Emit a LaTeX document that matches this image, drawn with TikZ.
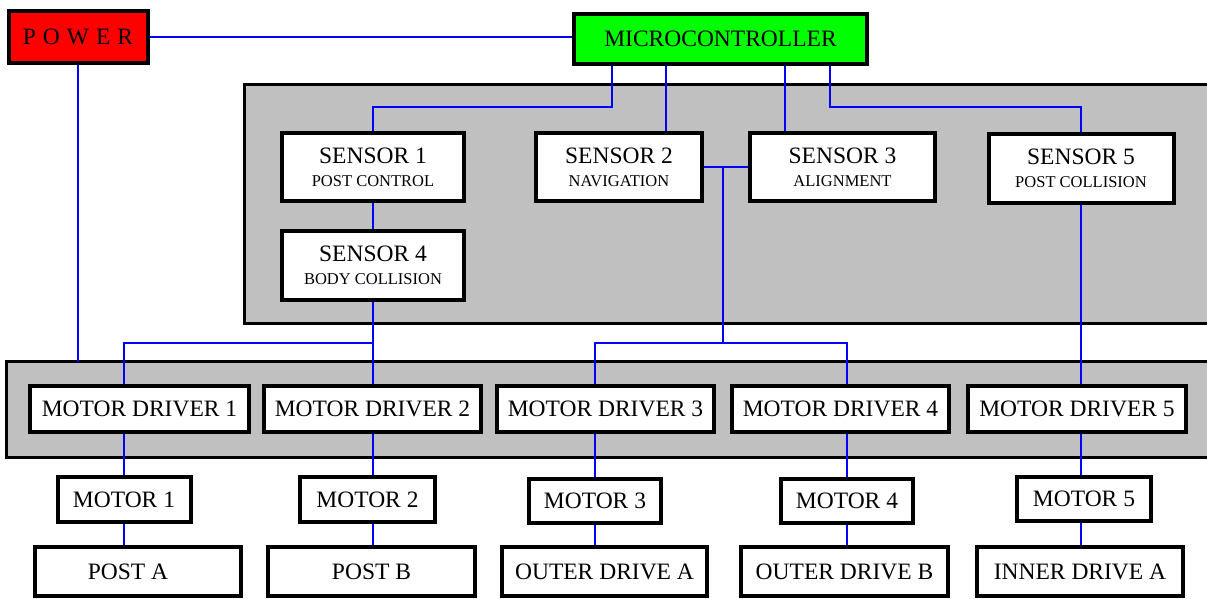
\documentclass[tikz,border=0pt]{standalone}
\usepackage{fontspec}
\setmainfont{Liberation Serif}
\pgfdeclarelayer{panel}
\pgfdeclarelayer{wires}
\pgfsetlayers{panel,wires,main}
\definecolor{panelgray}{HTML}{C0C0C0}
\definecolor{pwred}{HTML}{FF0000}
\definecolor{mcgreen}{HTML}{00FF00}
\newcommand\smalltxt[1]{{\fontsize{16.5}{16.5}\selectfont #1}}
\tikzset{
  box/.style={draw=black, line width=4pt, fill=white, inner sep=0pt, align=center,
    font=\fontsize{23.5}{24}\selectfont},
  wire/.style={draw=blue, line width=1.3pt},
  panelbox/.style={draw=black, line width=3pt, fill=panelgray}
}
\begin{document}
\begin{tikzpicture}[x=1pt,y=-1pt]
\useasboundingbox (0,0) rectangle (1207,598);

% boxes
\node[box, fill=pwred, minimum width=139pt, minimum height=52pt] (PW) at (78,37) {P\hspace{7pt}O\hspace{7pt}W\hspace{7pt}E\hspace{7pt}R};
\node[box, fill=mcgreen, minimum width=293pt, minimum height=50pt] (MC) at (720.5,39) {MICROCONTROLLER};

\node[box, minimum width=182pt, minimum height=68pt] (S1) at (373,167) {SENSOR 1\\[-1pt]\smalltxt{POST CONTROL}};
\node[box, minimum width=182pt, minimum height=69pt] (S4) at (373,265.5) {SENSOR 4\\[-1pt]\smalltxt{BODY COLLISION}};
\node[box, minimum width=166pt, minimum height=68pt] (S2) at (619,167) {SENSOR 2\\[-1pt]\smalltxt{NAVIGATION}};
\node[box, minimum width=185pt, minimum height=68pt] (S3) at (842.5,167) {SENSOR 3\\[-1pt]\smalltxt{ALIGNMENT}};
\node[box, minimum width=185pt, minimum height=69pt] (S5) at (1081,168.5) {SENSOR 5\\[-1pt]\smalltxt{POST COLLISION}};

\node[box, minimum width=219pt, minimum height=46pt] (MD1) at (139.5,409) {MOTOR DRIVER 1};
\node[box, minimum width=217pt, minimum height=46pt] (MD2) at (372.5,409) {MOTOR DRIVER 2};
\node[box, minimum width=217pt, minimum height=46pt] (MD3) at (605.5,409) {MOTOR DRIVER 3};
\node[box, minimum width=217pt, minimum height=46pt] (MD4) at (840.5,409) {MOTOR DRIVER 4};
\node[box, minimum width=218pt, minimum height=46pt] (MD5) at (1077,409) {MOTOR DRIVER 5};

\node[box, minimum width=133pt, minimum height=45pt] (M1) at (124,499.5) {MOTOR 1};
\node[box, minimum width=135pt, minimum height=45pt] (M2) at (367.5,499.5) {MOTOR 2};
\node[box, minimum width=132pt, minimum height=44pt] (M3) at (595,501) {MOTOR 3};
\node[box, minimum width=132pt, minimum height=44pt] (M4) at (847,501) {MOTOR 4};
\node[box, minimum width=134pt, minimum height=44pt] (M5) at (1084,499) {MOTOR 5};

\node[box, minimum width=206pt, minimum height=49pt] (PA) at (138,571.5) {POST A\hspace{20pt}};
\node[box, minimum width=207pt, minimum height=49pt] (PB) at (371.5,571.5) {POST B};
\node[box, minimum width=205pt, minimum height=49pt] (ODA) at (604.5,571.5) {OUTER DRIVE A};
\node[box, minimum width=207pt, minimum height=49pt] (ODB) at (844.5,571.5) {OUTER DRIVE B};
\node[box, minimum width=206pt, minimum height=49pt] (IDA) at (1080,571.5) {INNER DRIVE A};

% panels
\begin{pgfonlayer}{panel}
  \draw[panelbox] (244.5,84.5) rectangle (1225,323.5);
  \draw[panelbox] (6.5,361.5) rectangle (1225,457.5);
\end{pgfonlayer}

\coordinate (bandtop) at (0,361.5);
\coordinate (ja) at (373,343);
\coordinate (jb) at (723,343);

% wires
\begin{pgfonlayer}{wires}
  \draw[wire] (PW.east) -- (PW.east -| MC.west);
  \draw[wire] (PW.south) -- (PW.south |- bandtop);

  \draw[wire] ([xshift=-108.5pt]MC.south) |- ([yshift=24pt]S1.north) -- (S1.north);
  \draw[wire] ([xshift=-54.5pt]MC.south) -- ([xshift=-54.5pt]MC.south |- S2.north);
  \draw[wire] ([xshift=64.5pt]MC.south) -- ([xshift=64.5pt]MC.south |- S3.north);
  \draw[wire] ([xshift=109.5pt]MC.south) |- ([yshift=25pt]S5.north) -- (S5.north);

  \draw[wire] (S1.south) -- (S4.north);
  \draw[wire] (S4.south) -- (S4.south |- MD2.north);
  \draw[wire] (ja) -| (M1.north |- MD1.north);

  \draw[wire] (S2.east) -- (S3.west);
  \draw[wire] (jb |- S2.east) -- (jb);
  \draw[wire] (M3.north |- MD3.north) |- (jb) -| (M4.north |- MD4.north);

  \draw[wire] (S5.south) -- (S5.south |- MD5.north);

  \draw[wire] (M1.north |- MD1.south) -- (M1.north);
  \draw[wire] (M1.south) -- (M1.south |- PA.north);
  \draw[wire] (S4.south |- MD2.south) -- (S4.south |- M2.north);
  \draw[wire] (S4.south |- M2.south) -- (S4.south |- PB.north);
  \draw[wire] (M3.north |- MD3.south) -- (M3.north);
  \draw[wire] (M3.south) -- (M3.south |- ODA.north);
  \draw[wire] (M4.north |- MD4.south) -- (M4.north);
  \draw[wire] (M4.south) -- (M4.south |- ODB.north);
  \draw[wire] (S5.south |- MD5.south) -- (S5.south |- M5.north);
  \draw[wire] (S5.south |- M5.south) -- (S5.south |- IDA.north);
\end{pgfonlayer}
\end{tikzpicture}
\end{document}
